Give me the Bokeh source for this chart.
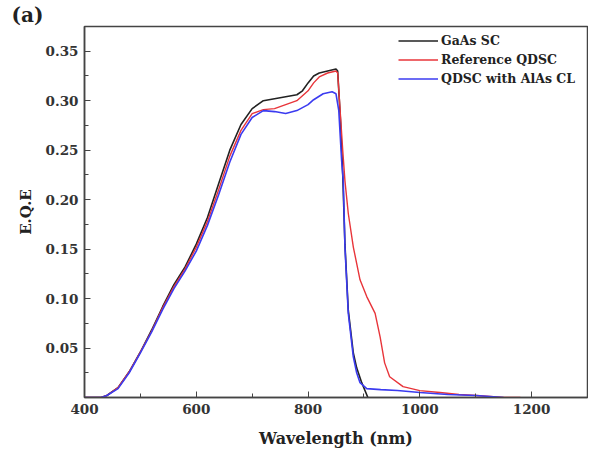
from bokeh.plotting import figure
from bokeh.models import Range1d, FixedTicker, Legend, LegendItem, CustomJSTickFormatter
from bokeh.embed import file_html
from bokeh.resources import INLINE

# GaAs SC
gaas_x = [400, 430, 440, 460, 480, 500, 520, 540, 560, 580, 600, 620, 640, 660, 680, 700,
          720, 740, 760, 780, 790, 800, 810, 820, 835, 850, 853, 858, 862, 866, 872, 881,
          887, 896, 907]
gaas_y = [0.0, 0.0, 0.002, 0.010, 0.026, 0.046, 0.068, 0.092, 0.114, 0.132, 0.155, 0.182,
          0.216, 0.250, 0.276, 0.292, 0.300, 0.302, 0.304, 0.306, 0.310, 0.318, 0.325, 0.328,
          0.330, 0.332, 0.330, 0.280, 0.226, 0.155, 0.088, 0.045, 0.030, 0.015, 0.0]

# Reference QDSC
ref_x = [400, 430, 440, 460, 480, 500, 520, 540, 560, 580, 600, 620, 640, 660, 680, 700,
         720, 740, 760, 780, 800, 810, 820, 835, 850, 853, 858, 862, 866, 872, 881, 893,
         905, 920, 929, 937, 946, 970, 1000, 1036, 1070, 1102, 1150, 1180]
ref_y = [0.0, 0.0, 0.002, 0.010, 0.026, 0.046, 0.067, 0.091, 0.112, 0.130, 0.152, 0.178,
         0.210, 0.244, 0.270, 0.287, 0.291, 0.292, 0.296, 0.300, 0.310, 0.318, 0.324, 0.328,
         0.330, 0.328, 0.285, 0.250, 0.219, 0.186, 0.152, 0.119, 0.102, 0.085, 0.061, 0.035,
         0.021, 0.011, 0.007, 0.005, 0.003, 0.002, 0.0, 0.0]

# QDSC with AlAs CL
cl_x = [400, 430, 440, 460, 480, 500, 520, 540, 560, 580, 600, 620, 640, 660, 680, 700,
        720, 740, 760, 780, 800, 810, 827, 843, 850, 855, 860, 863, 866, 872, 881, 887,
        893, 905, 930, 960, 1000, 1050, 1100, 1150]
cl_y = [0.0, 0.0, 0.002, 0.009, 0.025, 0.045, 0.066, 0.089, 0.110, 0.128, 0.148, 0.174,
        0.205, 0.238, 0.266, 0.283, 0.290, 0.289, 0.287, 0.290, 0.296, 0.301, 0.307, 0.309,
        0.307, 0.290, 0.240, 0.219, 0.152, 0.085, 0.041, 0.025, 0.015, 0.009, 0.008, 0.007,
        0.005, 0.003, 0.002, 0.0]

x_ticks = [400, 600, 800, 1000, 1200]
x_minor = [500, 700, 900, 1100, 1300]
y_ticks = [0.05, 0.10, 0.15, 0.20, 0.25, 0.30, 0.35]
y_minor = [0.025, 0.075, 0.125, 0.175, 0.225, 0.275, 0.325, 0.375]

FONT = "DejaVu Serif"

p = figure(width=588, height=456, output_backend="svg", toolbar_location=None,
           x_range=Range1d(400, 1300), y_range=Range1d(0, 0.375),
           min_border_left=84, min_border_top=26, min_border_bottom=59, min_border_right=1)
p.grid.visible = False
p.outline_line_color = "#444444"
p.outline_line_width = 1.5

p.title.text = "(a)"
p.title.align = "left"
p.title.offset = -73
p.title.standoff = 0
p.title.text_font = FONT
p.title.text_font_style = "bold"
p.title.text_font_size = "20px"
p.title.text_color = "#222222"

c_black = "#222222"
c_red = "#e8353a"
c_blue = "#3b3bf0"
r1 = p.line(gaas_x, gaas_y, line_color=c_black, line_width=1.6)
r2 = p.line(ref_x, ref_y, line_color=c_red, line_width=1.4)
r3 = p.line(cl_x, cl_y, line_color=c_blue, line_width=1.6)

for ax in (p.xaxis[0], p.yaxis[0]):
    ax.axis_line_color = "#444444"
    ax.axis_line_width = 1.5
    ax.major_tick_in = 6
    ax.major_tick_out = 0
    ax.minor_tick_in = 4
    ax.minor_tick_out = 0
    ax.major_tick_line_color = "#444444"
    ax.minor_tick_line_color = "#444444"
    ax.major_label_text_font = FONT
    ax.major_label_text_font_style = "bold"
    ax.major_label_text_font_size = "13.5px"
    ax.major_label_text_color = "#333333"
    ax.axis_label_text_font = FONT
    ax.axis_label_text_font_style = "bold"
    ax.axis_label_text_color = "#222222"

p.xaxis[0].ticker = FixedTicker(ticks=x_ticks, minor_ticks=x_minor)
p.yaxis[0].ticker = FixedTicker(ticks=y_ticks, minor_ticks=y_minor)
p.yaxis[0].formatter = CustomJSTickFormatter(code="return tick.toFixed(2);")
p.xaxis[0].axis_label = "Wavelength (nm)"
p.xaxis[0].axis_label_text_font_size = "16px"
p.xaxis[0].axis_label_standoff = 12
p.yaxis[0].axis_label = "E.Q.E"
p.yaxis[0].axis_label_text_font_size = "15px"
p.yaxis[0].axis_label_standoff = 8
p.xaxis[0].major_label_standoff = 6
p.yaxis[0].major_label_standoff = 6

legend = Legend(items=[LegendItem(label="GaAs SC", renderers=[r1]),
                       LegendItem(label="Reference QDSC", renderers=[r2]),
                       LegendItem(label="QDSC with AlAs CL", renderers=[r3])],
                location=(314, 309))
legend.border_line_color = None
legend.background_fill_alpha = 0.0
legend.label_text_font = FONT
legend.label_text_font_style = "bold"
legend.label_text_font_size = "12.5px"
legend.label_text_color = "#222222"
legend.glyph_width = 40
legend.label_standoff = 3
legend.spacing = 0
legend.label_height = 19
legend.glyph_height = 19
legend.padding = 3
legend.margin = 0
p.add_layout(legend)

open("out.html", "w").write(file_html(p, INLINE))
